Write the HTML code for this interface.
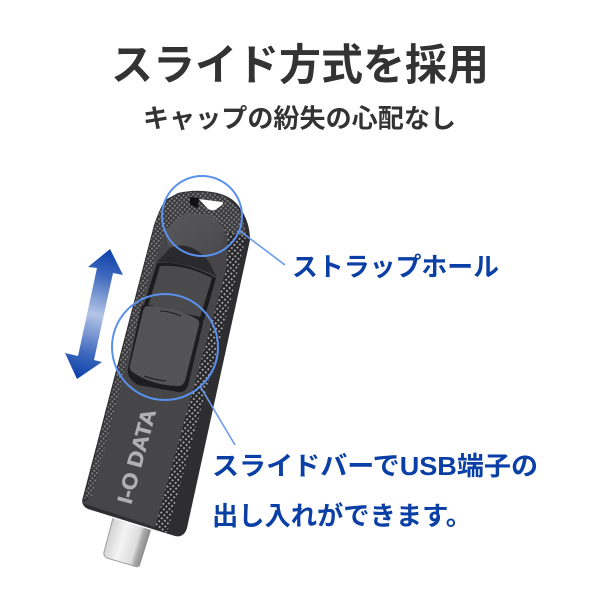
<!DOCTYPE html>
<html><head><meta charset="utf-8"><style>
html,body{margin:0;padding:0;background:#fff}
svg{display:block}
text{font-family:"Liberation Sans","Noto Sans CJK JP",sans-serif;font-weight:700}
</style></head><body>
<svg width="600" height="600" viewBox="0 0 600 600" xmlns="http://www.w3.org/2000/svg">
<defs>
<linearGradient id="arrow" gradientUnits="userSpaceOnUse" x1="110" y1="249" x2="77" y2="379">
<stop offset="0" stop-color="#0b3ea8"/><stop offset=".2" stop-color="#3d68bd"/><stop offset=".5" stop-color="#b4c5e6"/><stop offset=".8" stop-color="#3d68bd"/><stop offset="1" stop-color="#0b3ea8"/>
</linearGradient>
<linearGradient id="usb" gradientUnits="userSpaceOnUse" x1="106" y1="530" x2="150" y2="543">
<stop offset="0" stop-color="#b4b4b4"/><stop offset=".12" stop-color="#d8d8d8"/><stop offset=".4" stop-color="#f4f4f4"/><stop offset=".72" stop-color="#dcdcdc"/><stop offset=".8" stop-color="#acacac"/><stop offset="1" stop-color="#787878"/>
</linearGradient>
<pattern id="knurl" width="4" height="4" patternUnits="userSpaceOnUse" patternTransform="rotate(40)">
<rect width="4" height="4" fill="#262628"/><rect width="2" height="2" fill="#9a9a9e"/>
</pattern>
<pattern id="knurl2" width="3.4" height="3.4" patternUnits="userSpaceOnUse" patternTransform="rotate(40)">
<rect width="3.4" height="3.4" fill="#39393b"/><rect width="1.8" height="1.8" fill="#828285"/>
</pattern>
<linearGradient id="plate" x1="0" y1="0" x2="1" y2="1">
<stop offset="0" stop-color="#59595b"/><stop offset="1" stop-color="#4a4a4c"/>
</linearGradient>
</defs>

<text x="111" y="80" font-size="43" fill="#333" textLength="378" lengthAdjust="spacingAndGlyphs">スライド方式を採用</text>
<text x="143" y="127.5" font-size="26" fill="#333" textLength="313" lengthAdjust="spacingAndGlyphs">キャップの紛失の心配なし</text>

<polygon fill="url(#arrow)" points="110,249 123,275 113,273 94,360 102,362 77,379 65,353 78,356 97,268 88,267"/>

<!-- usb plug -->
<path fill="url(#usb)" d="M113,518 L151,530 L140,565 Q138,568 134,566 L107,558 Q103,556 104,552 Z"/>
<path fill="none" stroke="#a0a0a0" stroke-width="1" d="M113,518 L104,552 Q103,556 107,558 L134,566 Q138,568 140,565"/>

<!-- body -->
<path fill="#2e2e30" d="M178,193 Q195,189 212,192 Q232,195 240,208 Q250,222 250,240 L187,528 Q184,538 175,536 L88,509 Q80,505 83,497 L154,225 Q159,210 165,200 Z"/>
<!-- top + left knurl -->
<path fill="url(#knurl2)" d="M178,194 Q195,190 212,193 Q230,196 238,209 Q245,220 246,238 L228,250 L150,275 L92,497 L84,499 L155,225 Q159,210 166,201 Z"/>
<!-- right knurl -->
<path fill="url(#knurl)" d="M226,232 L246,236 L230,303 L167,533 L155,527 L217,303 L226,270 Z"/>
<!-- centre face -->
<path fill="#464648" d="M166,228 L228,235 L226,270 L217,303 L155,527 L82,503 L92,497 L117,400 L150,275 Z"/>
<!-- hole -->
<polygon fill="#111" points="190,197 199,198 198,208 190,205"/>
<path fill="#fff" d="M199,199 L222,202 Q224,203 222,205 L215,210 Q212,211 208,209 Z"/>
<!-- top plate -->
<path fill="url(#plate)" d="M165,230 L185,213 L213,215 L225,230 L222,247 L207,257 L190,257 L168,245 Z"/>
<path fill="#2a2a2c" d="M170,248 Q188,240 205,257 Q210,262 213,270 L217,277 Q190,262 157,262 Z"/>
<!-- upper slot -->
<path fill="#1c1c1e" d="M157,263 Q185,261 216,278 L204,320 L143,308 Z"/>
<path fill="#4a4a4c" d="M160,266 Q185,264 212,278 L200,318 L148,306 Z"/>
<!-- slider recess -->
<path fill="#1d1d1f" d="M145,304 L200,317 Q204,319 203,323 L188,386 Q185,393 178,392 L138,385 Q126,378 128,368 L141,309 Q142,305 145,304 Z"/>
<!-- slider -->
<path fill="#535355" d="M147,306 Q172,306 197,319 Q200,321 199,325 L185,381 Q182,387 177,386 Q150,385 131,371 Q129,368 130,365 L143,311 Q144,307 147,306 Z"/>
<path fill="none" stroke="#1c1c1e" stroke-width="1" d="M160,311 Q170,311 181,316 M144,376 Q155,380 166,381"/>

<!-- logo -->
<text transform="translate(131,505) rotate(-75)" font-size="21" fill="#b0b0b2" stroke="#b0b0b2" stroke-width=".5" textLength="97" lengthAdjust="spacingAndGlyphs">I-O DATA</text>

<!-- circles and leaders -->
<circle cx="202" cy="216" r="40" fill="none" stroke="#5a90ee" stroke-width="2"/>
<circle cx="165" cy="347" r="53" fill="none" stroke="#5a90ee" stroke-width="2"/>
<line x1="240" y1="231" x2="285" y2="265" stroke="#6a9bf0" stroke-width="1.6"/>
<line x1="200" y1="386" x2="235" y2="445" stroke="#6a9bf0" stroke-width="1.6"/>

<text x="292" y="276" font-size="26" fill="#0a3fa5" textLength="207" lengthAdjust="spacingAndGlyphs">ストラップホール</text>
<text x="212" y="475" font-size="26" fill="#0a3fa5" textLength="326" lengthAdjust="spacingAndGlyphs">スライドバーでUSB端子の</text>
<text x="212" y="525" font-size="26" fill="#0a3fa5" textLength="260" lengthAdjust="spacingAndGlyphs">出し入れができます。</text>
</svg>
</body></html>
